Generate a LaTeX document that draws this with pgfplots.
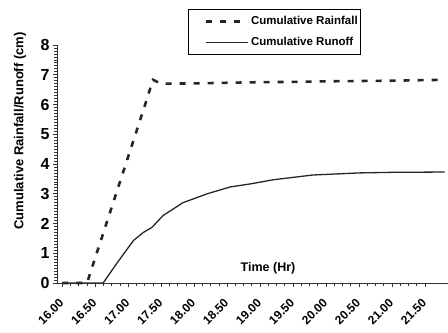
\documentclass[border=0pt]{standalone}
\usepackage{fontspec}
\setmainfont{Liberation Sans}
\usepackage{pgfplots}
\pgfplotsset{compat=1.18}
\begin{document}
\begin{tikzpicture}
\begin{axis}[
  scale only axis, width=391bp, height=238bp,
  xmin=15.92, xmax=21.85, ymin=0, ymax=8,
  axis x line=bottom, axis y line=left,
  axis line style={-, line width=0.9bp, black!80},
  xtick={16,16.5,17,17.5,18,18.5,19,19.5,20,20.5,21,21.5},
  xticklabels={16.00,16.50,17.00,17.50,18.00,18.50,19.00,19.50,20.00,20.50,21.00,21.50},
  ytick={0,1,2,3,4,5,6,7,8},
  minor x tick num=3, minor y tick num=9,
  tick align=outside,
  tick style={black!80, line width=0.7bp},
  major tick length=4bp, minor tick length=2.5bp,
  xticklabel style={rotate=45, anchor=east, inner sep=1bp, font=\fontsize{12bp}{13bp}\selectfont\bfseries},
  xticklabel shift=13bp,
  yticklabel style={font=\fontsize{16bp}{18bp}\selectfont\bfseries},
  /pgf/number format/assume math mode=true,
  ylabel={Cumulative Rainfall/Runoff (cm)},
  ylabel style={font=\fontsize{13bp}{15bp}\selectfont\bfseries, at={(axis description cs:-0.0946,0.639)}, anchor=center},
  legend style={at={(axis description cs:0.335,1.151)}, anchor=north west, draw=black, line width=0.9bp,
    font=\fontsize{11.5bp}{13bp}\selectfont\bfseries, inner xsep=1bp, inner ysep=5bp, row sep=7bp},
  legend cell align=left,
  legend image code/.code={\path (0bp,0bp); \draw[#1] (15bp,0bp) -- (57bp,0bp);},
  clip=false,
]
\addplot[black!85, line width=2.6bp, dash pattern=on 6bp off 8bp] coordinates {
(16.0,0) (16.125,0) (16.25,0) (16.375,0) (16.5,0.85) (16.625,1.7) (16.75,2.55)
(16.875,3.4) (17.0,4.25) (17.125,5.1) (17.25,5.95) (17.375,6.83) (17.5,6.70)
(18.0,6.71) (18.5,6.73) (19.0,6.75) (19.5,6.76) (20.0,6.78) (20.5,6.79)
(21.0,6.80) (21.5,6.82) (21.8,6.83)
};
\addlegendentry{Cumulative Rainfall}
\addplot[black!85, line width=1.3bp] coordinates {
(16.0,0) (16.3,0) (16.62,0) (16.83,0.67) (17.08,1.43) (17.23,1.70) (17.36,1.87)
(17.53,2.27) (17.83,2.70) (18.2,3.00) (18.55,3.23) (18.85,3.33) (19.2,3.47)
(19.5,3.55) (19.8,3.63) (20.5,3.70) (21.0,3.72) (21.8,3.73)
};
\addlegendentry{Cumulative Runoff}
\node[font=\fontsize{12.5bp}{14bp}\selectfont\bfseries] at (axis cs:19.12,0.5) {Time (Hr)};
\coordinate (ll) at (rel axis cs:0,0);
\coordinate (ur) at (rel axis cs:1,1);
\end{axis}
\pgfresetboundingbox
\path[use as bounding box] ([shift={(-57bp,-50bp)}]ll) rectangle ([shift={(0bp,45bp)}]ur);
\end{tikzpicture}
\end{document}
